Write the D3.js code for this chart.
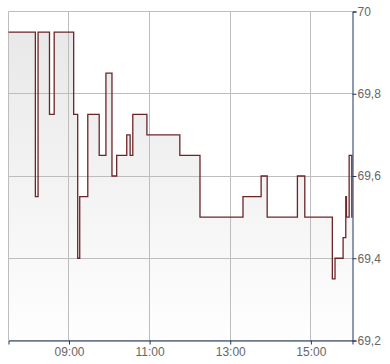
<!DOCTYPE html>
<html>
<head>
<meta charset="utf-8">
<script src="https://cdn.jsdelivr.net/npm/d3@7"></script>
<style>
  body { margin: 0; background: #fff; }
  svg { display: block; font-family: "Liberation Sans", Arial, sans-serif; }
</style>
</head>
<body>
<div id="chart"></div>
<script>
// intraday quotes, step series
const times = ["07:30", "08:10", "08:14", "08:31", "08:38", "09:07", "09:13", "09:16", "09:28", "09:45",
  "09:55", "10:04", "10:11", "10:26", "10:31", "10:35", "10:56", "11:45", "12:15", "13:19",
  "13:46", "13:55", "14:40", "14:51", "15:32", "15:36", "15:48", "15:52", "15:53", "15:57",
  "16:01", "16:02"]
const prices = [69.95, 69.55, 69.95, 69.75, 69.95, 69.75, 69.40, 69.55, 69.75, 69.65,
  69.85, 69.60, 69.65, 69.70, 69.65, 69.75, 69.70, 69.65, 69.50, 69.55,
  69.60, 69.50, 69.60, 69.50, 69.35, 69.40, 69.45, 69.55, 69.50, 69.65,
  69.50, 69.50]
const xTickLabels = ["09:00", "11:00", "13:00", "15:00"]
const yTicks = [69.2, 69.4, 69.6, 69.8, 70]
const xStart = "07:30"
const xEnd = "16:02"

const dimensions = {
  width: 390,
  height: 364,
  margin: { top: 11, right: 38, bottom: 24, left: 8 },
  boundedWidth: 0,
  boundedHeight: 0
}
dimensions.boundedWidth = dimensions.width - dimensions.margin.left - dimensions.margin.right
dimensions.boundedHeight = dimensions.height - dimensions.margin.top - dimensions.margin.bottom

const parseTime = d3.timeParse("%H:%M")
const data = times.map((t, i) => ({ date: parseTime(t), value: prices[i] }))

const locale = d3.formatLocale({ decimal: ",", thousands: ".", grouping: [3], currency: ["", " €"] })
const yFormat = v => locale.format(",.1f")(v).replace(/,0$/, "")

const xScale = d3.scaleTime()
  .domain([parseTime(xStart), parseTime(xEnd)])
  .range([0, dimensions.boundedWidth])
const yScale = d3.scaleLinear()
  .domain([69.2, 70])
  .range([dimensions.boundedHeight, 0])

const svg = d3.select("#chart").append("svg")
  .attr("width", dimensions.width)
  .attr("height", dimensions.height)

const defs = svg.append("defs")
const grad = defs.append("linearGradient")
  .attr("id", "areaFill")
  .attr("gradientUnits", "userSpaceOnUse")
  .attr("x1", 0).attr("x2", 0)
  .attr("y1", 0).attr("y2", dimensions.boundedHeight)
grad.append("stop").attr("offset", "0%").attr("stop-color", "#e7e7e7")
grad.append("stop").attr("offset", "100%").attr("stop-color", "#fefefe")

const bounds = svg.append("g")
  .attr("transform", `translate(${dimensions.margin.left + 0.5}, ${dimensions.margin.top + 0.5})`)

// area + line
const area = d3.area()
  .x(d => xScale(d.date))
  .y0(dimensions.boundedHeight)
  .y1(d => yScale(d.value))
  .curve(d3.curveStepAfter)
bounds.append("path")
  .datum(data)
  .attr("d", area)
  .attr("fill", "url(#areaFill)")

// grid
const xTickDates = xTickLabels.map(parseTime)
bounds.append("g").selectAll("line")
  .data(xTickDates)
  .join("line")
    .attr("x1", d => Math.round(xScale(d)))
    .attr("x2", d => Math.round(xScale(d)))
    .attr("y1", 0)
    .attr("y2", dimensions.boundedHeight)
    .attr("stroke", "#bdbdbd")
bounds.append("g").selectAll("line")
  .data(yTicks)
  .join("line")
    .attr("x1", 0)
    .attr("x2", dimensions.boundedWidth)
    .attr("y1", d => Math.round(yScale(d)))
    .attr("y2", d => Math.round(yScale(d)))
    .attr("stroke", "#bdbdbd")
bounds.append("line")
  .attr("x1", 0).attr("x2", 0)
  .attr("y1", 0).attr("y2", dimensions.boundedHeight)
  .attr("stroke", "#bdbdbd")

const line = d3.line()
  .x(d => xScale(d.date))
  .y(d => yScale(d.value))
  .curve(d3.curveStepAfter)
bounds.append("path")
  .datum(data)
  .attr("d", line)
  .attr("fill", "none")
  .attr("stroke", "#6b2529")
  .attr("stroke-width", 1.3)

// axes
const xAxis = bounds.append("g")
  .attr("transform", `translate(0, ${dimensions.boundedHeight})`)
  .call(d3.axisBottom(xScale).tickValues(xTickDates).tickFormat(d3.timeFormat("%H:%M")).tickSizeOuter(0).tickSize(4).tickPadding(3))
const yAxis = bounds.append("g")
  .attr("transform", `translate(${dimensions.boundedWidth}, 0)`)
  .call(d3.axisRight(yScale).tickValues(yTicks).tickFormat(yFormat).tickSizeOuter(0).tickSize(4).tickPadding(1))

;[xAxis, yAxis].forEach(ax => {
  ax.select(".domain").attr("stroke", "#1c3560")
  ax.selectAll(".tick line").attr("stroke", "#1c3560")
  ax.selectAll(".tick text")
    .attr("fill", "#666")
    .style("font-size", "12px")
    .style("font-family", "\"Liberation Sans\", Arial, sans-serif")
})
</script>
</body>
</html>
